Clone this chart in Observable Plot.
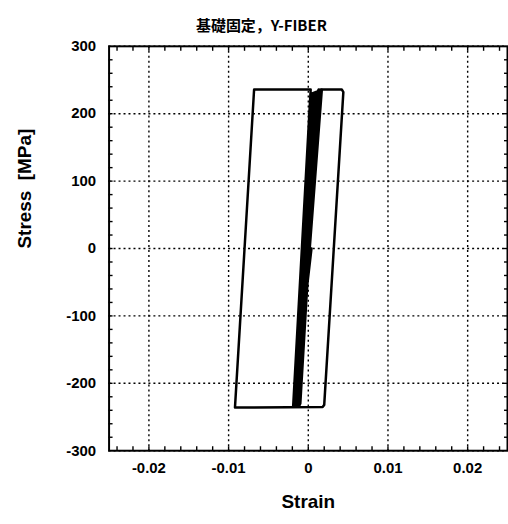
<!DOCTYPE html>
<html><head><meta charset="utf-8">
<script src="https://cdn.jsdelivr.net/npm/d3@7"></script>
<script src="https://cdn.jsdelivr.net/npm/@observablehq/plot@0.6"></script>
<style>html,body{margin:0;padding:0;background:#fff;overflow:hidden;width:508px;height:524px}</style>
</head><body><div id="chart"></div>
<script>
const title = "基礎固定，Y-FIBER";
const xLabel = "Strain";
const yLabel = "Stress  [MPa]";
const xTicks = [-0.02, -0.01, 0, 0.01, 0.02];
const xTickLabels = ["-0.02", "-0.01", "0", "0.01", "0.02"];
const yTicks = [-300, -200, -100, 0, 100, 200, 300];
const yTickLabels = ["-300", "-200", "-100", "0", "100", "200", "300"];
const xMinorTicks = [-0.024,-0.022,-0.02,-0.018,-0.016,-0.014,-0.012,-0.01,-0.008,-0.006,-0.004,-0.002,0,0.002,0.004,0.006,0.008,0.01,0.012,0.014,0.016,0.018,0.02,0.022,0.024];
const yMinorTicks = [-280,-260,-240,-220,-200,-180,-160,-140,-120,-100,-80,-60,-40,-20,0,20,40,60,80,100,120,140,160,180,200,220,240,260,280];

// hysteresis path (strain, stress in MPa)
const strain = [0, 0.0011, 0.0013, -0.0010, -0.0012, 0.0012, 0.0015, -0.0011, -0.0014, 0.0010, 0.0016, -0.0012, -0.0016, 0.0008, 0.0017, -0.0013, -0.0018, 0.0005, 0.0018,
  0.0042, 0.0044, 0.0020, 0.0018, -0.0092, -0.0068, 0.0003, -0.0019, 0.0004];
const stress = [0, 230, 236, -230, -235, 230, 236, -230, -235, 230, 236, -230, -235, 230, 236, -230, -235, 230, 236,
  236, 232, -232, -235, -236, 236, 236, -235, 0];

const data = strain.map((s, i) => ({strain: s, stress: stress[i]}));
const font = "'Liberation Sans', Arial, Helvetica, sans-serif";
const dotted = {stroke: "black", strokeOpacity: 1, strokeWidth: 1.4, strokeDasharray: "2,3"};
const minor = {tickSize: 4, tickFormat: () => "", strokeWidth: 1.4, label: null};

const plot = Plot.plot({
  width: 510, height: 524,
  marginLeft: 109, marginRight: 1, marginTop: 46, marginBottom: 72,
  x: {domain: [-0.025, 0.025]},
  y: {domain: [-300, 300]},
  style: {fontFamily: font, background: "white", color: "black"},
  marks: [
    Plot.gridX(xTicks, dotted),
    Plot.gridY(yTicks, dotted),
    Plot.frame({stroke: "black", strokeWidth: 2}),
    Plot.axisX(xMinorTicks, {anchor: "bottom", dy: -4, ...minor}),
    Plot.axisX(xMinorTicks, {anchor: "top", dy: 4, ...minor}),
    Plot.axisY(yMinorTicks, {anchor: "left", dx: 4, ...minor}),
    Plot.axisY(yMinorTicks, {anchor: "right", dx: -4, ...minor}),
    Plot.axisX(xTicks, {anchor: "bottom", tickSize: 0, tickPadding: 12, label: null,
      tickFormat: d => xTickLabels[xTicks.indexOf(d)], fontSize: 15, fontWeight: "bold"}),
    Plot.axisY(yTicks, {anchor: "left", tickSize: 0, tickPadding: 13, label: null,
      tickFormat: d => yTickLabels[yTicks.indexOf(d)], fontSize: 15, fontWeight: "bold"}),
    Plot.line(data, {x: "strain", y: "stress", stroke: "black", strokeWidth: 2.5, strokeLinejoin: "round", strokeLinecap: "round"}),
    Plot.text([xLabel], {frameAnchor: "bottom", dy: 58, fontSize: 19, fontWeight: "bold", fontFamily: font}),
    Plot.text([yLabel], {frameAnchor: "left", rotate: -90, dx: -84, fontSize: 19, fontWeight: "bold", fontFamily: font}),
    Plot.text([title], {frameAnchor: "top", dx: -47, dy: -26, fontSize: 15, fontWeight: "bold", fontFamily: "'Noto Sans CJK JP', " + font})
  ]
});
document.getElementById("chart").appendChild(plot);
</script>
</body></html>
